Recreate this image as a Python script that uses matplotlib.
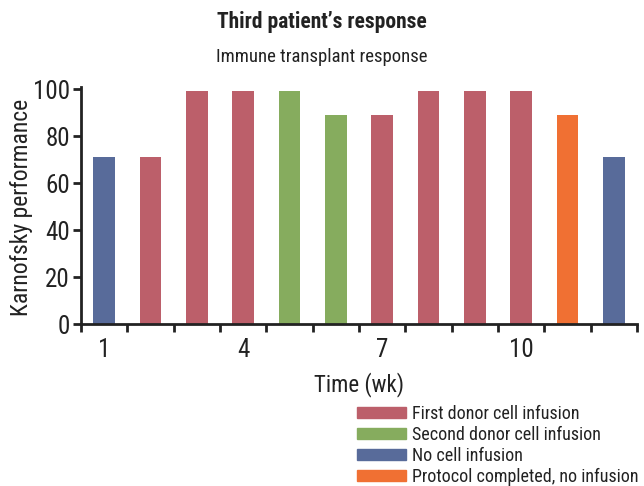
import matplotlib
matplotlib.use('Agg')
import matplotlib.pyplot as plt
import matplotlib.patches as mpatches
from matplotlib import font_manager

# weeks and Karnofsky scores
weeks = list(range(1, 13))
scores = [71, 71, 99, 99, 99, 89, 89, 99, 99, 99, 89, 71]
groups = ['none', 'first', 'first', 'first', 'second', 'second',
          'first', 'first', 'first', 'first', 'done', 'none']
tick_weeks = [1, 4, 7, 10]

colors = {'first': '#BC5F6A', 'second': '#86AC5E',
          'none': '#586B9A', 'done': '#F07033'}
labels = {'first': 'First donor cell infusion',
          'second': 'Second donor cell infusion',
          'none': 'No cell infusion',
          'done': 'Protocol completed, no infusion'}

names = set(f.name for f in font_manager.fontManager.ttflist)
picked = 'DejaVu Sans'
for cand in ['Roboto Condensed', 'Liberation Sans Narrow', 'Roboto']:
    if cand in names:
        picked = cand
        break
plt.rcParams['font.family'] = [picked, 'DejaVu Sans']

fig = plt.figure(figsize=(6.44, 4.86), dpi=100)
ax = fig.add_axes([81 / 644, 1 - 324 / 486, 556 / 644, 237 / 486])

ax.bar(weeks, scores, width=0.47, color=[colors[g] for g in groups])

ax.set_xlim(0.5, 12.5)
ax.set_ylim(0, 100.9)
ax.set_xticks([w + 0.5 for w in range(0, 13)])
ax.set_xticklabels([])
ax.set_xticks(tick_weeks, minor=True)
ax.set_xticklabels([str(w) for w in tick_weeks], minor=True, fontsize=18, color='#222222')
ax.tick_params(axis='x', which='minor', length=0, pad=10)
ax.tick_params(axis='x', which='major', length=6, width=2, color='#222222')
ax.set_yticks(range(0, 101, 20))
ax.tick_params(axis='y', length=6, width=2, color='#222222', labelsize=18, labelcolor='#222222', pad=2)

for side in ['top', 'right']:
    ax.spines[side].set_visible(False)
for side in ['left', 'bottom']:
    ax.spines[side].set_linewidth(2)
    ax.spines[side].set_color('#222222')

ax.set_xlabel('Time (wk)', fontsize=16.5, color='#222222')
ax.xaxis.set_label_coords(0.5, (324 - 385) / 237, transform=ax.transAxes)
ax.xaxis.label.set_va('center')
ax.set_ylabel('Karnofsky performance', fontsize=17, color='#222222')
ax.yaxis.set_label_coords((22 - 81) / 556, (324 - 207) / 237, transform=ax.transAxes)
ax.yaxis.label.set_va('center')

fig.text(0.5, 1 - 22 / 486, 'Third patient\u2019s response', ha='center', va='center',
         fontsize=15.5, fontweight='bold', color='#222222')
fig.text(0.5, 1 - 57 / 486, 'Immune transplant response', ha='center', va='center',
         fontsize=13.5, color='#222222')

handles = [mpatches.Patch(color=colors[k], label=labels[k]) for k in ['first', 'second', 'none', 'done']]
fig.legend(handles=handles, loc='upper left', bbox_to_anchor=(357 / 644, 1 - 405 / 486),
           frameon=False, fontsize=13, borderpad=0, borderaxespad=0,
           handlelength=2.7, handleheight=0.55, handletextpad=0.33, labelspacing=0.17,
           labelcolor='#222222')

fig.savefig('out.png', dpi=100)
